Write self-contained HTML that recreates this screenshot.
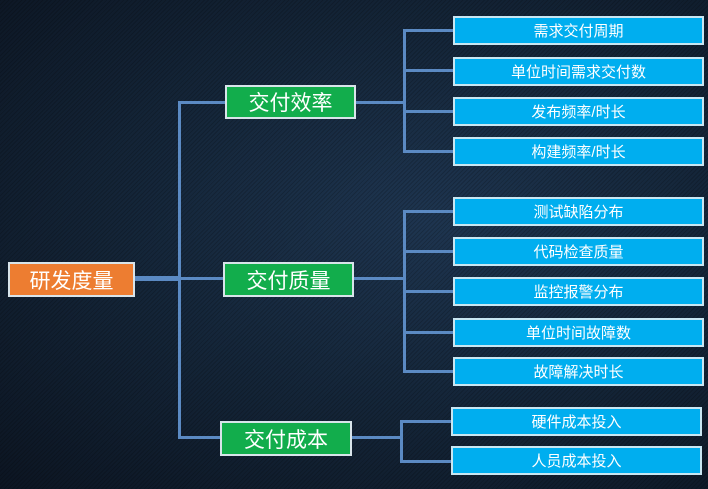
<!DOCTYPE html>
<html><head><meta charset="utf-8"><style>
html,body{margin:0;padding:0}
body{width:708px;height:489px;position:relative;overflow:hidden;
background:radial-gradient(ellipse at 60% 45%,#1e3550 0%,#142538 50%,#0c1522 100%);
font-family:"Liberation Sans","Noto Sans CJK SC",sans-serif;}
.tex{position:absolute;inset:0;background:repeating-linear-gradient(135deg,rgba(0,0,0,0.18) 0 1px,rgba(255,255,255,0) 1px 3px);}
.b{position:absolute;box-sizing:border-box;display:flex;align-items:center;justify-content:center;color:#fff;border:2px solid #d8e4ea;}
.o{background:#ed7d31;font-size:21px}
.g{background:#12ad4c;font-size:21px}
.l{background:#00aeef;font-size:15px;border-color:#c8e6f2}
.h{position:absolute;background:#5b8ac3;height:3px}
.v{position:absolute;background:#5b8ac3;width:3px}
</style></head><body>
<div class="tex"></div>
<!-- lines -->
<div class="h" style="left:134px;top:276px;width:46px;height:5px"></div>
<div class="v" style="left:178px;top:101px;height:337px"></div>
<div class="h" style="left:178px;top:101px;width:48px"></div>
<div class="h" style="left:178px;top:277px;width:46px"></div>
<div class="h" style="left:178px;top:436px;width:43px"></div>
<div class="h" style="left:355px;top:101px;width:50px"></div>
<div class="v" style="left:403px;top:29px;height:123px"></div>
<div class="h" style="left:403px;top:29px;width:51px"></div>
<div class="h" style="left:403px;top:69px;width:51px"></div>
<div class="h" style="left:403px;top:110px;width:51px"></div>
<div class="h" style="left:403px;top:150px;width:51px"></div>
<div class="h" style="left:353px;top:277px;width:52px"></div>
<div class="v" style="left:403px;top:210px;height:162px"></div>
<div class="h" style="left:403px;top:210px;width:51px"></div>
<div class="h" style="left:403px;top:250px;width:51px"></div>
<div class="h" style="left:403px;top:290px;width:51px"></div>
<div class="h" style="left:403px;top:331px;width:51px"></div>
<div class="h" style="left:403px;top:370px;width:51px"></div>
<div class="h" style="left:351px;top:436px;width:51px"></div>
<div class="v" style="left:400px;top:420px;height:42px"></div>
<div class="h" style="left:400px;top:420px;width:52px"></div>
<div class="h" style="left:400px;top:460px;width:52px"></div>
<!-- boxes -->
<div class="b o" style="left:8px;top:262px;width:127px;height:35px">研发度量</div>
<div class="b g" style="left:225px;top:85px;width:131px;height:34px">交付效率</div>
<div class="b g" style="left:223px;top:262px;width:131px;height:35px">交付质量</div>
<div class="b g" style="left:220px;top:421px;width:132px;height:35px">交付成本</div>
<div class="b l" style="left:453px;top:16px;width:251px;height:29px">需求交付周期</div>
<div class="b l" style="left:453px;top:57px;width:251px;height:29px">单位时间需求交付数</div>
<div class="b l" style="left:453px;top:97px;width:251px;height:29px">发布频率/时长</div>
<div class="b l" style="left:453px;top:137px;width:251px;height:29px">构建频率/时长</div>
<div class="b l" style="left:453px;top:197px;width:251px;height:29px">测试缺陷分布</div>
<div class="b l" style="left:453px;top:237px;width:251px;height:29px">代码检查质量</div>
<div class="b l" style="left:453px;top:277px;width:251px;height:29px">监控报警分布</div>
<div class="b l" style="left:453px;top:318px;width:251px;height:29px">单位时间故障数</div>
<div class="b l" style="left:453px;top:357px;width:251px;height:29px">故障解决时长</div>
<div class="b l" style="left:451px;top:407px;width:251px;height:29px">硬件成本投入</div>
<div class="b l" style="left:451px;top:446px;width:251px;height:29px">人员成本投入</div>
</body></html>
